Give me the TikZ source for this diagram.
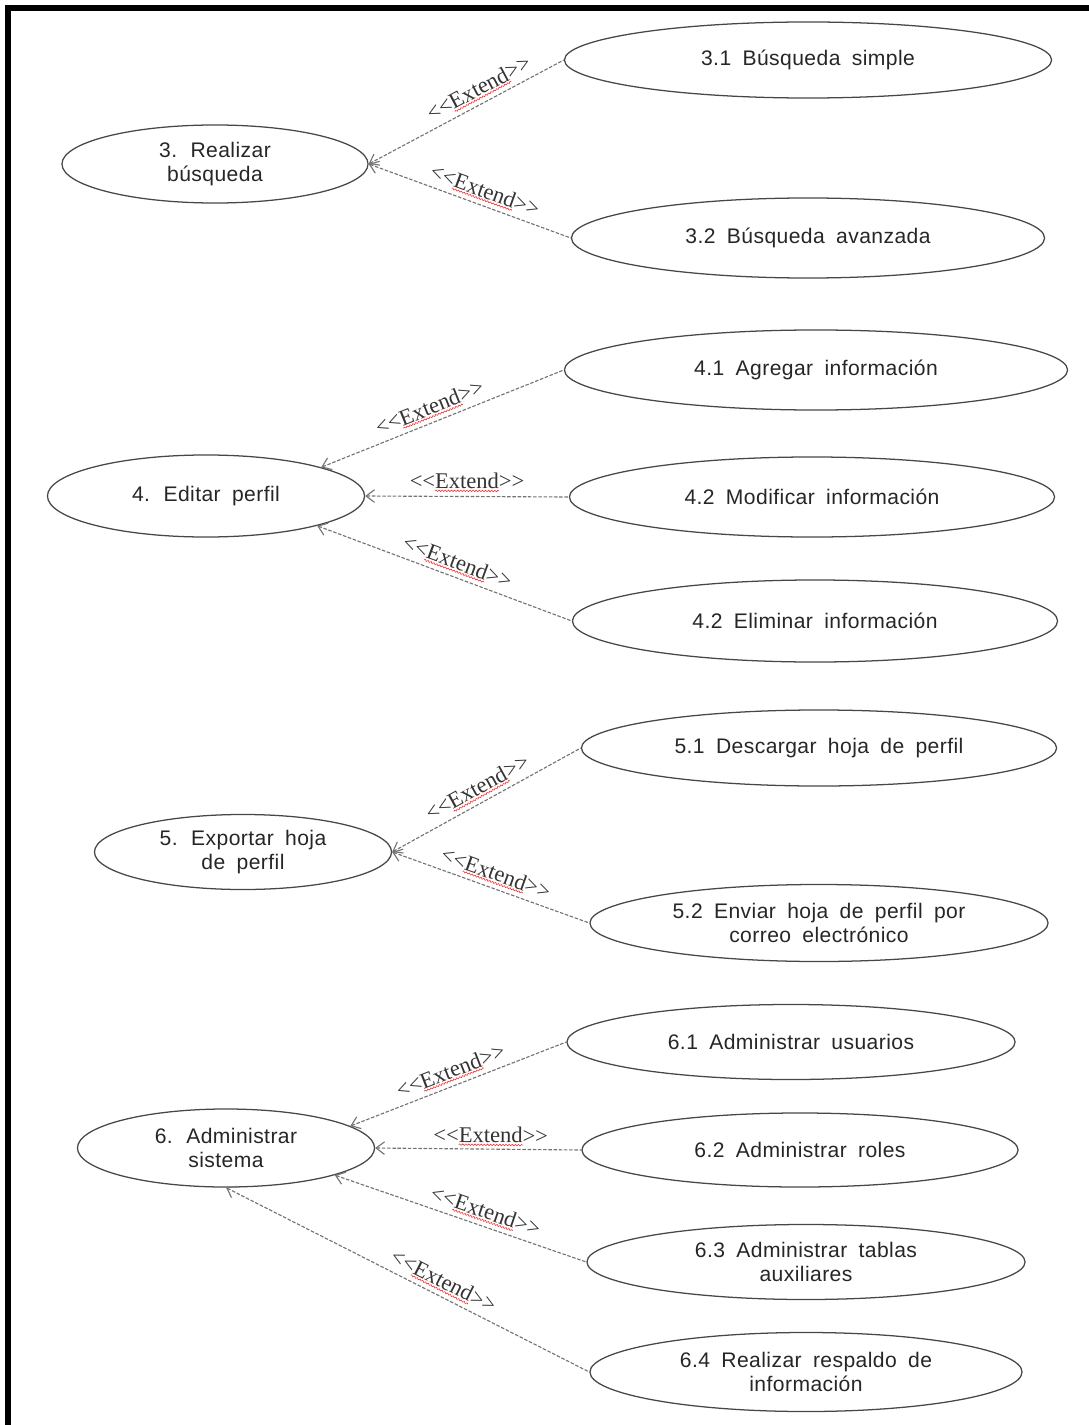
\documentclass[tikz,border=0pt]{standalone}
\usepackage{fontspec}
\setmainfont{Liberation Serif}
\newfontfamily\ucfont[WordSpace=1.8,LetterSpace=2]{Liberation Sans}
\usetikzlibrary{shapes.geometric,arrows.meta,calc,decorations.pathmorphing}
% stereotype text, with the ligature to guillemets kept apart
\newcommand{\stereo}{<{}<Extend>{}>}
\begin{document}
\begin{tikzpicture}[x=0.025cm,y=-0.025cm,
  uc/.style={ellipse, draw=black!72, line width=0.9pt, inner sep=0pt, align=center,
    font=\ucfont\fontsize{15}{16.5}\selectfont, text=black!85},
  ext/.style={draw=black!55, line width=0.8pt, dash pattern=on 2.5pt off 1.2pt,
    arrows={Straight Barb[length=6pt,width=9pt]-}},
  lbl/.style={sloped, font=\fontsize{16}{18}\selectfont, text=black!80, inner sep=1pt},
  squiggle/.style={draw=red!85, line width=0.4pt, decorate,
    decoration={snake, amplitude=0.55pt, segment length=2.2pt}}]
\useasboundingbox (0,0) rectangle (1089,1425);
% frame
\draw[line width=0.15cm] (8,1425) -- (8,8) -- (1089,8);

% 3. search
\node[uc, minimum width=7.65cm, minimum height=1.95cm] (c3) at (215,164) {3. Realizar\\búsqueda};
\node[uc, minimum width=12.175cm, minimum height=1.9cm] (c31) at (808,60) {3.1 Búsqueda simple};
\node[uc, minimum width=11.825cm, minimum height=2cm] (c32) at (808,238) {3.2 Búsqueda avanzada};
\draw[ext] (c3.east) -- (c31.west) node[lbl, pos=0.6, above=4pt] (l1) {\stereo};
\draw[ext] (c3.east) -- (c32.west) node[lbl, pos=0.55, above=4pt] (l2) {\stereo};

% 4. profile editing
\node[uc, minimum width=7.925cm, minimum height=2.05cm] (c4) at (206,496) {4. Editar perfil};
\node[uc, minimum width=12.575cm, minimum height=2cm] (c41) at (816,370) {4.1 Agregar información};
\node[uc, minimum width=12.125cm, minimum height=2cm] (c42) at (812,497) {4.2 Modificar información};
\node[uc, minimum width=12.125cm, minimum height=2.05cm] (c43) at (815,621) {4.2 Eliminar información};
\draw[ext] (c4.14) -- (c41.west) node[lbl, pos=0.47, above=4pt] (l3) {\stereo};
\draw[ext] (c4.east) -- (c42.west) node[lbl, pos=0.5, above=4pt] (l4) {\stereo};
\draw[ext] (c4.-15) -- (c43.west) node[lbl, pos=0.53, above=4pt] (l5) {\stereo};

% 5. export
\node[uc, minimum width=7.425cm, minimum height=1.875cm] (c5) at (243,852) {5. Exportar hoja\\de perfil};
\node[uc, minimum width=11.875cm, minimum height=1.9cm] (c51) at (819,748) {5.1 Descargar hoja de perfil};
\node[uc, minimum width=11.45cm, minimum height=1.925cm] (c52) at (819,923) {5.2 Enviar hoja de perfil por\\correo electrónico};
\draw[ext] (c5.east) -- (c51.west) node[lbl, pos=0.49, above=4pt] (l6) {\stereo};
\draw[ext] (c5.east) -- (c52.west) node[lbl, pos=0.5, above=4pt] (l7) {\stereo};

% 6. administration
\node[uc, minimum width=7.425cm, minimum height=1.95cm] (c6) at (226,1148) {6. Administrar\\sistema};
\node[uc, minimum width=11.2cm, minimum height=1.875cm] (c61) at (791,1042) {6.1 Administrar usuarios};
\node[uc, minimum width=10.9cm, minimum height=1.85cm] (c62) at (800,1150) {6.2 Administrar roles};
\node[uc, minimum width=10.95cm, minimum height=1.875cm] (c63) at (806,1262) {6.3 Administrar tablas\\auxiliares};
\node[uc, minimum width=10.8cm, minimum height=1.975cm] (c64) at (806,1372) {6.4 Realizar respaldo de\\información};
\draw[ext] (c6.10) -- (c61.west) node[lbl, pos=0.49, above=4pt] (l8) {\stereo};
\draw[ext] (c6.east) -- (c62.west) node[lbl, pos=0.56, above=3pt] (l9) {\stereo};
\draw[ext] (c6.-14) -- (c63.west) node[lbl, pos=0.58, above=4pt] (l10) {\stereo};
\draw[ext] (c6.south) -- (c64.west) node[lbl, pos=0.58, above=4pt] (l11) {\stereo};

% spell-check squiggles under the stereotype word
\foreach \l in {l1,l2,l3,l4,l5,l6,l7,l8,l9,l10,l11}
  \path[squiggle] ($(\l.south west)!0.23!(\l.south east)$) -- ($(\l.south west)!0.77!(\l.south east)$);
\end{tikzpicture}
\end{document}
